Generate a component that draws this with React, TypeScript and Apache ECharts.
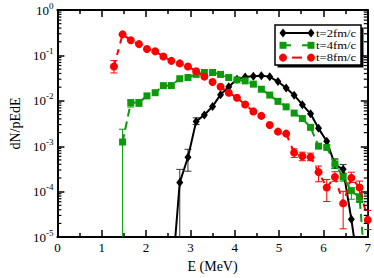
import React, { useEffect, useRef } from "react";
import * as echarts from "echarts";

// Energy grid (MeV)
const energies = [
  1.275, 1.47, 1.655, 1.84, 2.02, 2.205, 2.39, 2.57, 2.76, 2.945, 3.13, 3.315, 3.5, 3.68, 3.865, 4.05,
  4.235, 4.42, 4.6, 4.79, 4.975, 5.16, 5.34, 5.525, 5.71, 5.89, 6.075, 6.26, 6.445, 6.63, 6.815, 7.0,
];

// dN/pEdE values for each time
const t2Values = [
  null, null, null, null, null, null, null, 8e-7, 0.00016, 0.000573, 0.00353, 0.00489, 0.00755, 0.0137,
  0.0204, 0.03, 0.0333, 0.035, 0.0359, 0.0338, 0.0266, 0.0191, 0.0133, 0.00824, 0.00518, 0.00248,
  0.00129, 0.000395, 0.00031, 0.0000247, 1.4e-6, null,
];
const t4Values = [
  null, 0.00124, 0.00903, 0.00917, 0.01286, 0.0151, 0.0216, 0.0217, 0.0307, 0.0327, 0.0382, 0.0421,
  0.0421, 0.0382, 0.0326, 0.0289, 0.0275, 0.0233, 0.018, 0.0134, 0.00975, 0.00737, 0.00538, 0.00407,
  0.00261, 0.001005, 0.000944, 0.000405, 0.000211, 0.000105, 0.0000752, 4e-7,
];
const t8Values = [
  0.0568, 0.291, 0.215, 0.177, 0.139, 0.123, 0.0948, 0.0759, 0.0667, 0.0571, 0.0448, 0.0342, 0.0259,
  0.0204, 0.0151, 0.0117, 0.0083, 0.00585, 0.00466, 0.00294, 0.0021, 0.0019, 0.000723, 0.000601,
  0.000576, 0.000269, 0.000124, 0.000211, 0.0000552, 0.000201, 0.000124, 0.0000239,
];

// Error bars: [E, low, high]
const t2Errors = [
  [2.76, 1e-5, 0.00031],
  [2.945, 0.000282, 0.000857],
  [3.13, 0.00301, 0.00423],
  [6.26, 0.000326, 0.000528],
  [6.445, 0.000256, 0.000395],
];
const t4Errors = [
  [1.47, 1e-5, 0.00237],
  [1.655, 0.0073, 0.0106],
  [1.84, 0.00757, 0.0106],
  [6.26, 0.000326, 0.000503],
  [6.445, 0.000171, 0.000247],
  [6.63, 0.0000682, 0.00012],
  [6.815, 0.0000579, 0.0000895],
];
const t8Errors = [
  [1.275, 0.0411, 0.077],
  [5.34, 0.000568, 0.000877],
  [5.525, 0.00048, 0.000741],
  [5.71, 0.00048, 0.000706],
  [5.89, 0.000165, 0.000367],
  [6.075, 0.0000608, 0.000185],
  [6.26, 0.000169, 0.000275],
  [6.445, 0.0000152, 0.000102],
  [6.63, 0.00016, 0.000268],
  [6.815, 0.0000608, 0.000171],
  [7.0, 0.0000147, 0.0000387],
];

const seriesNames = ["t=2fm/c", "t=4fm/c", "t=8fm/c"];
const seriesColors = ["#000000", "#0a9a0a", "#ff0000"];

// Log-axis minor tick positions (mantissa x decade)
const minorMantissas = [2, 3, 4, 5, 6, 7, 8, 9];
const minorDecades = [1e-5, 1e-4, 1e-3, 1e-2, 1e-1];

const FONT = "'Liberation Serif', 'Times New Roman', serif";

function pairs(values: (number | null)[]) {
  return energies.map((e, i) => [e, values[i] === null ? null : values[i]]);
}

function errRender(color: string) {
  return (params: any, api: any) => {
    const x = api.value(0);
    const lo = api.value(1);
    const hi = api.value(2);
    const pLo = api.coord([x, lo]);
    const pHi = api.coord([x, hi]);
    const cap = 3.5;
    const st = { stroke: color, lineWidth: 1 };
    const children: any[] = [
      { type: "line", shape: { x1: pLo[0], y1: pLo[1], x2: pHi[0], y2: pHi[1] }, style: st },
      { type: "line", shape: { x1: pHi[0] - cap, y1: pHi[1], x2: pHi[0] + cap, y2: pHi[1] }, style: st },
    ];
    if (lo > 1e-5) {
      children.push({ type: "line", shape: { x1: pLo[0] - cap, y1: pLo[1], x2: pLo[0] + cap, y2: pLo[1] }, style: st });
    }
    return { type: "group", children };
  };
}

function legendRow(i: number, y: number): any[] {
  const x1 = 283;
  const x2 = 311;
  const color = seriesColors[i];
  const els: any[] = [];
  if (i === 0) {
    els.push({ type: "line", shape: { x1, y1: y, x2, y2: y }, style: { stroke: color, lineWidth: 2 }, z: 102 });
    for (const cx of [x1, x2]) {
      els.push({
        type: "polygon",
        shape: { points: [[cx, y - 4.5], [cx + 3.5, y], [cx, y + 4.5], [cx - 3.5, y]] },
        style: { fill: color },
        z: 103,
      });
    }
  } else if (i === 1) {
    els.push({ type: "line", shape: { x1, y1: y, x2: 291, y2: y }, style: { stroke: color, lineWidth: 2 }, z: 102 });
    els.push({ type: "line", shape: { x1: 302, y1: y, x2, y2: y }, style: { stroke: color, lineWidth: 2 }, z: 102 });
    for (const cx of [x1, x2]) {
      els.push({ type: "rect", shape: { x: cx - 3.5, y: y - 3.5, width: 7, height: 7 }, style: { fill: color }, z: 103 });
    }
  } else {
    els.push({ type: "line", shape: { x1: 292, y1: y, x2: 302, y2: y }, style: { stroke: color, lineWidth: 2 }, z: 102 });
    for (const cx of [x1, x2]) {
      els.push({ type: "circle", shape: { cx, cy: y, r: 4 }, style: { fill: color }, z: 103 });
    }
  }
  els.push({
    type: "text",
    x: 316,
    y,
    scaleX: 1.15,
    style: {
      text: seriesNames[i],
      fontFamily: FONT,
      fontSize: 11,
      fill: "#000",
      verticalAlign: "middle",
      align: "left",
    },
    z: 103,
  });
  return els;
}

export default function App() {
  const ref = useRef<HTMLDivElement>(null);
  useEffect(() => {
    if (!ref.current) return;
    const chart = echarts.init(ref.current, undefined, { renderer: "svg" });

    const minorTickData: number[][] = [];
    for (const d of minorDecades) for (const m of minorMantissas) minorTickData.push([0, m * d]);

    const axisLine = { show: true, onZero: false, lineStyle: { color: "#000", width: 2 } };
    const axisTick = { show: true, inside: true, length: 7, lineStyle: { color: "#000", width: 1.5 } };

    const option: any = {
      animation: false,
      backgroundColor: "#fff",
      grid: { left: 43, right: 5, top: 10, bottom: 30, containLabel: false },
      xAxis: [
        {
          type: "value",
          min: 0,
          max: 7,
          interval: 1,
          position: "bottom",
          axisLine,
          axisTick,
          minorTick: { show: true, splitNumber: 2, length: 4, lineStyle: { color: "#000", width: 1.5 } },
          splitLine: { show: false },
          minorSplitLine: { show: false },
          axisLabel: { fontFamily: FONT, fontSize: 13, color: "#000", margin: 4 },
          name: "E (MeV)",
          nameLocation: "middle",
          nameGap: 17,
          nameTextStyle: { fontFamily: FONT, fontSize: 14, color: "#000" },
        },
        {
          type: "value",
          min: 0,
          max: 7,
          interval: 1,
          position: "top",
          axisLine,
          axisTick,
          minorTick: { show: true, splitNumber: 2, length: 4, lineStyle: { color: "#000", width: 1.5 } },
          splitLine: { show: false },
          axisLabel: { show: false },
        },
      ],
      yAxis: [
        {
          type: "log",
          logBase: 10,
          min: 1e-5,
          max: 1,
          interval: 1,
          position: "left",
          axisLine,
          axisTick,
          splitLine: { show: false },
          axisLabel: {
            fontFamily: FONT,
            fontSize: 13,
            color: "#000",
            margin: 4,
            formatter: (v: number) => "{b|10}{sup|" + Math.round(Math.log10(v)) + "}",
            rich: {
              b: { fontFamily: FONT, fontSize: 13, lineHeight: 18, color: "#000" },
              sup: { fontFamily: FONT, fontSize: 9, lineHeight: 9, verticalAlign: "top", color: "#000" },
            },
          },
          name: "dN/pEdE",
          nameLocation: "middle",
          nameGap: 28,
          nameTextStyle: { fontFamily: FONT, fontSize: 14, color: "#000" },
        },
        {
          type: "log",
          logBase: 10,
          min: 1e-5,
          max: 1,
          interval: 1,
          position: "right",
          axisLine,
          axisTick,
          splitLine: { show: false },
          axisLabel: { show: false },
        },
      ],
      graphic: [
        { type: "rect", shape: { x: 277.5, y: 27.5, width: 86, height: 40 }, style: { fill: "#000" }, z: 100 },
        {
          type: "rect",
          shape: { x: 275, y: 25, width: 86, height: 40 },
          style: { fill: "#fff", stroke: "#000", lineWidth: 1.5 },
          z: 101,
        },
        ...legendRow(0, 33),
        ...legendRow(1, 45.3),
        ...legendRow(2, 57.6),
      ],
      series: [
        {
          type: "custom",
          name: "minor ticks",
          silent: true,
          data: minorTickData,
          encode: { x: 0, y: 1 },
          renderItem: (params: any, api: any) => {
            const v = api.value(1);
            const p0 = api.coord([0, v]);
            const p1 = api.coord([7, v]);
            const st = { stroke: "#000", lineWidth: 1.2 };
            return {
              type: "group",
              children: [
                { type: "line", shape: { x1: p0[0], y1: p0[1], x2: p0[0] + 4, y2: p0[1] }, style: st },
                { type: "line", shape: { x1: p1[0] - 4, y1: p1[1], x2: p1[0], y2: p1[1] }, style: st },
              ],
            };
          },
          z: 5,
        },
        {
          type: "custom",
          name: seriesNames[0] + " err",
          silent: true,
          data: t2Errors,
          encode: { x: 0, y: [1, 2] },
          renderItem: errRender("#333"),
          z: 1,
        },
        {
          type: "custom",
          name: seriesNames[1] + " err",
          silent: true,
          data: t4Errors,
          encode: { x: 0, y: [1, 2] },
          renderItem: errRender(seriesColors[1]),
          z: 1,
        },
        {
          type: "custom",
          name: seriesNames[2] + " err",
          silent: true,
          data: t8Errors,
          encode: { x: 0, y: [1, 2] },
          renderItem: errRender(seriesColors[2]),
          z: 1,
        },
        {
          type: "line",
          name: seriesNames[0],
          data: pairs(t2Values),
          symbol: "diamond",
          symbolSize: [7, 9],
          showSymbol: true,
          lineStyle: { color: seriesColors[0], width: 2 },
          itemStyle: { color: seriesColors[0] },
          clip: true,
          z: 2,
        },
        {
          type: "line",
          name: seriesNames[1],
          data: pairs(t4Values),
          symbol: "rect",
          symbolSize: 7,
          showSymbol: true,
          lineStyle: { color: seriesColors[1], width: 2, type: [8, 5] },
          itemStyle: { color: seriesColors[1] },
          clip: true,
          z: 3,
        },
        {
          type: "line",
          name: seriesNames[2],
          data: pairs(t8Values),
          symbol: "circle",
          symbolSize: 8,
          showSymbol: true,
          lineStyle: { color: seriesColors[2], width: 2, type: [6, 6] },
          itemStyle: { color: seriesColors[2] },
          clip: true,
          z: 4,
        },
      ],
    };
    chart.setOption(option);
    return () => chart.dispose();
  }, []);

  return (
    <div
      ref={ref}
      style={{ position: "fixed", left: 0, top: 0, width: 374, height: 278, background: "#fff" }}
    />
  );
}
